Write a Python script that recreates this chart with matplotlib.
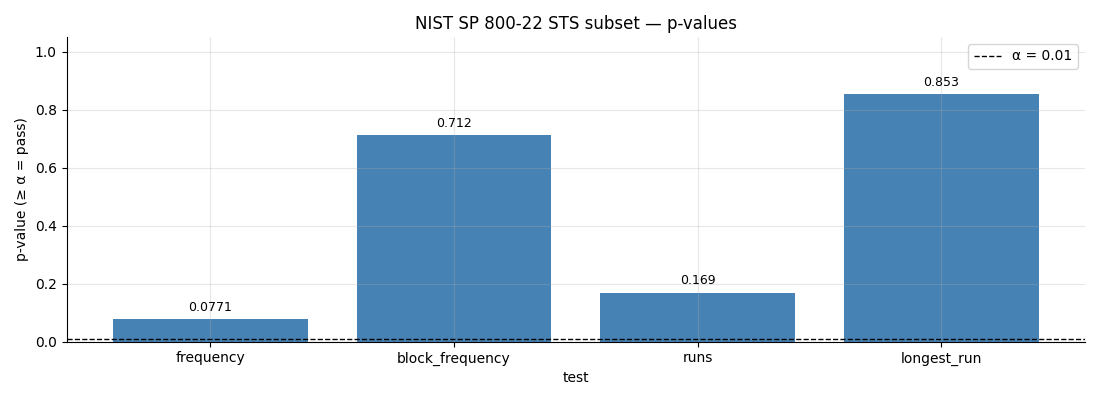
import matplotlib
matplotlib.use("Agg")
import matplotlib.pyplot as plt

tests = ["frequency", "block_frequency", "runs", "longest_run"]
p_values = [0.0771, 0.712, 0.169, 0.853]
alpha = 0.01

fig, ax = plt.subplots(figsize=(11, 4), dpi=100)
fig.subplots_adjust(left=0.0605, right=0.9865, top=0.9075, bottom=0.1458)

bars = ax.bar(tests, p_values, color="#4682b4", width=0.8)
for b, v in zip(bars, p_values):
    ax.annotate(f"{v:.3g}", (b.get_x() + b.get_width() / 2, v),
                xytext=(0, 4), textcoords="offset points",
                ha="center", va="bottom", fontsize=9)
ax.axhline(alpha, color="black", linestyle="--", linewidth=1, label=f"α = {alpha}")
ax.set_ylim(0, 1.05)
ax.grid(True, alpha=0.3)
ax.spines["top"].set_visible(False)
ax.spines["right"].set_visible(False)
ax.set_xlabel("test")
ax.set_ylabel("p-value (≥ α = pass)")
ax.set_title("NIST SP 800-22 STS subset — p-values")
ax.legend(loc="upper right")
fig.savefig("out.png")
